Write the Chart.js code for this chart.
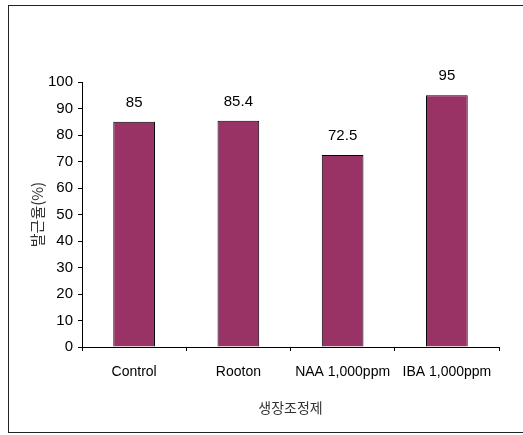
<!DOCTYPE html>
<html>
<head>
<meta charset="utf-8">
<script src="https://cdn.jsdelivr.net/npm/chart.js@4/dist/chart.umd.min.js"></script>
<style>
  html, body { margin: 0; padding: 0; background: #fff; }
  #wrap { width: 523px; height: 435px; }
</style>
</head>
<body>
<div id="wrap"><canvas id="c" width="523" height="435"></canvas></div>
<script>
// Rooting rate by growth regulator treatment
const categories = ['Control', 'Rooton', 'NAA 1,000ppm', 'IBA 1,000ppm'];
const rootingRate = [85, 85.4, 72.5, 95];
const yTicks = [0, 10, 20, 30, 40, 50, 60, 70, 80, 90, 100];
const xTitle = '생장조정제';
const yTitle = '발근율(%)';

const latin = '"Liberation Sans", Arial, sans-serif';
const korean = '"Noto Sans CJK KR", "Liberation Sans", sans-serif';

// Outer frame, axis titles and value labels above the bars
const decorations = {
  id: 'decorations',
  beforeDraw(chart) {
    const ctx = chart.ctx;
    ctx.save();
    ctx.fillStyle = '#fff';
    ctx.fillRect(0, 0, chart.width, chart.height);
    ctx.strokeStyle = '#222';
    ctx.lineWidth = 1;
    ctx.strokeRect(8.5, 5.5, 530, 427);
    ctx.restore();
  },
  afterDatasetsDraw(chart) {
    const ctx = chart.ctx;
    const area = chart.chartArea;
    ctx.save();
    ctx.fillStyle = '#000';
    ctx.font = '15px ' + latin;
    ctx.textAlign = 'center';
    ctx.textBaseline = 'middle';
    const meta = chart.getDatasetMeta(0);
    meta.data.forEach((bar, i) => {
      ctx.fillText(String(rootingRate[i]), bar.x, bar.y - 19);
    });

    ctx.fillStyle = '#333';
    ctx.font = '14px ' + korean;
    ctx.fillText(xTitle, (area.left + area.right) / 2, 408);

    ctx.font = '15px ' + korean;
    ctx.translate(37, (area.top + area.bottom) / 2);
    ctx.rotate(-Math.PI / 2);
    ctx.fillText(yTitle, 0, 0);
    ctx.restore();
  }
};

new Chart(document.getElementById('c'), {
  type: 'bar',
  data: {
    labels: categories,
    datasets: [{
      data: rootingRate,
      backgroundColor: '#993366',
      borderColor: '#000',
      borderWidth: 1,
      barPercentage: 0.4,
      categoryPercentage: 1.0
    }]
  },
  options: {
    responsive: false,
    animation: false,
    layout: { padding: { top: 82, right: 24, left: 0, bottom: 0 } },
    plugins: {
      legend: { display: false },
      tooltip: { enabled: false }
    },
    scales: {
      x: {
        offset: true,
        grid: { display: true, offset: true, drawOnChartArea: false, drawTicks: true, tickLength: 4, color: '#000' },
        border: { display: true, color: '#000', width: 1 },
        ticks: { color: '#000', font: { family: latin, size: 14 }, padding: 13, maxRotation: 0, autoSkip: false },
        afterFit(scale) { scale.height = 88; }
      },
      y: {
        min: 0,
        max: 100,
        afterBuildTicks(scale) { scale.ticks = yTicks.map(v => ({ value: v })); },
        grid: { display: true, drawOnChartArea: false, drawTicks: true, tickLength: 4, color: '#000' },
        border: { display: true, color: '#000', width: 1 },
        ticks: { color: '#000', font: { family: latin, size: 15 }, padding: 5 },
        afterFit(scale) { scale.width = 82; }
      }
    }
  },
  plugins: [decorations]
});
</script>
</body>
</html>
